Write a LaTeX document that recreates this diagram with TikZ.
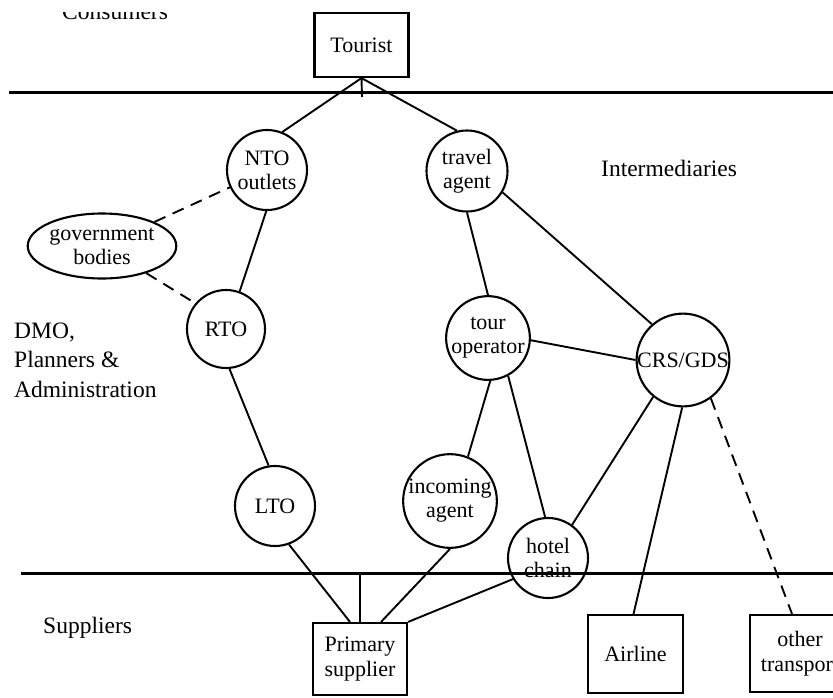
\documentclass[tikz,border=0pt]{standalone}
\usepackage{fontspec}
\setmainfont{Liberation Serif}
\usetikzlibrary{shapes.geometric}
\begin{document}
\begin{tikzpicture}[x=1pt,y=-1pt,
  lbl/.style={font=\fontsize{23.5}{29.5}\selectfont, anchor=base west, inner sep=0pt, align=left},
  circ/.style={circle, draw, line width=2.1pt, inner sep=0pt, minimum size=#1, font=\fontsize{22}{24}\selectfont, align=center},
  ell/.style={ellipse, draw, line width=2.1pt, inner sep=0pt, font=\fontsize{22}{24}\selectfont, align=center},
  boxn/.style={draw, line width=2.1pt, inner sep=0pt, font=\fontsize{22}{25}\selectfont, align=center},
  conn/.style={line width=1.9pt},
  dconn/.style={line width=1.9pt, dash pattern=on 12pt off 8pt},
  sepline/.style={line width=3pt}]
\useasboundingbox (0,0) rectangle (833,697);

% separator lines
\coordinate (tl) at (9,92);
\coordinate (tr) at (840,92);
\coordinate (bl) at (21,573);
\coordinate (br) at (840,573);
\draw[sepline] (tl) -- (tr);
\draw[sepline] (bl) -- (br);

% labels
\begin{scope}
  \clip (0,12) rectangle (833,697);
  \node[lbl] (consumers) at (62,19) {Consumers};
\end{scope}
\node[lbl] (interm) at (601,176) {Intermediaries};
\node[lbl] (dmo) at (14,397) {DMO,\\Planners \&\\Administration};
\node[lbl] (suppl) at (43,633) {Suppliers};

% nodes
\node[boxn, minimum width=94pt, minimum height=64pt] (tourist) at (361.5,45) {Tourist};
\node[circ=80pt] (nto) at (267,170) {NTO\\outlets};
\node[ell, minimum width=121pt, minimum height=65pt] (gov) at (102,246) {government\\bodies};
\node[circ=78pt] (rto) at (226,329) {RTO};
\node[circ=81pt] (tra) at (467,171) {travel\\agent};
\node[circ=83pt] (tour) at (488,338) {tour\\operator};
\node[circ=92pt] (crs) at (683,360) {CRS/GDS};
\node[circ=90pt] (inc) at (450,501) {incoming\\agent};
\node[circ=80pt] (hot) at (548,558) {hotel\\chain};
\node[circ=80pt] (lto) at (275,506) {LTO};
\node[boxn, minimum width=94pt, minimum height=72pt] (prim) at (360,659) {Primary\\supplier};
\node[boxn, minimum width=95pt, minimum height=78pt] (air) at (635.5,654) {Airline};
\node[boxn, minimum width=100pt, minimum height=77pt] (oth) at (800,653.5) {other\\transport};

% connectors
\coordinate (ttick) at (362,97);
\draw[conn] (tourist.south) -- (ttick);
\draw[conn] (tourist.south) -- (nto.68);
\draw[conn] (tourist.south) -- (tra.104);
\draw[dconn] (gov) -- (nto.-155);
\draw[dconn] (gov) -- (rto.140);
\draw[conn] (nto.-91) -- (rto.70);
\draw[conn] (rto.-85) -- (lto.99);
\draw[conn] (lto.-70) -- ([xshift=-10pt]prim.north);
\draw[conn] (prim.north) -- (prim.north |- bl);
\draw[conn] (inc.-90) -- ([xshift=21pt]prim.north);
\draw[conn] (hot.-149) -- (prim.north east);
\draw[conn] (tra.-90) -- (tour.90);
\draw[conn] (tra.-31) -- (crs.131);
\draw[conn] (tour.-3) -- (crs.180);
\draw[conn] (tour.-87) -- (inc.68);
\draw[conn] (tour.-62) -- (hot.94);
\draw[conn] (crs.-129) -- (hot.54);
\draw[conn] (crs.-91) -- ([xshift=-2pt]air.north);
\draw[dconn] (crs.-54) -- ([xshift=-8pt]oth.north);
\end{tikzpicture}
\end{document}
